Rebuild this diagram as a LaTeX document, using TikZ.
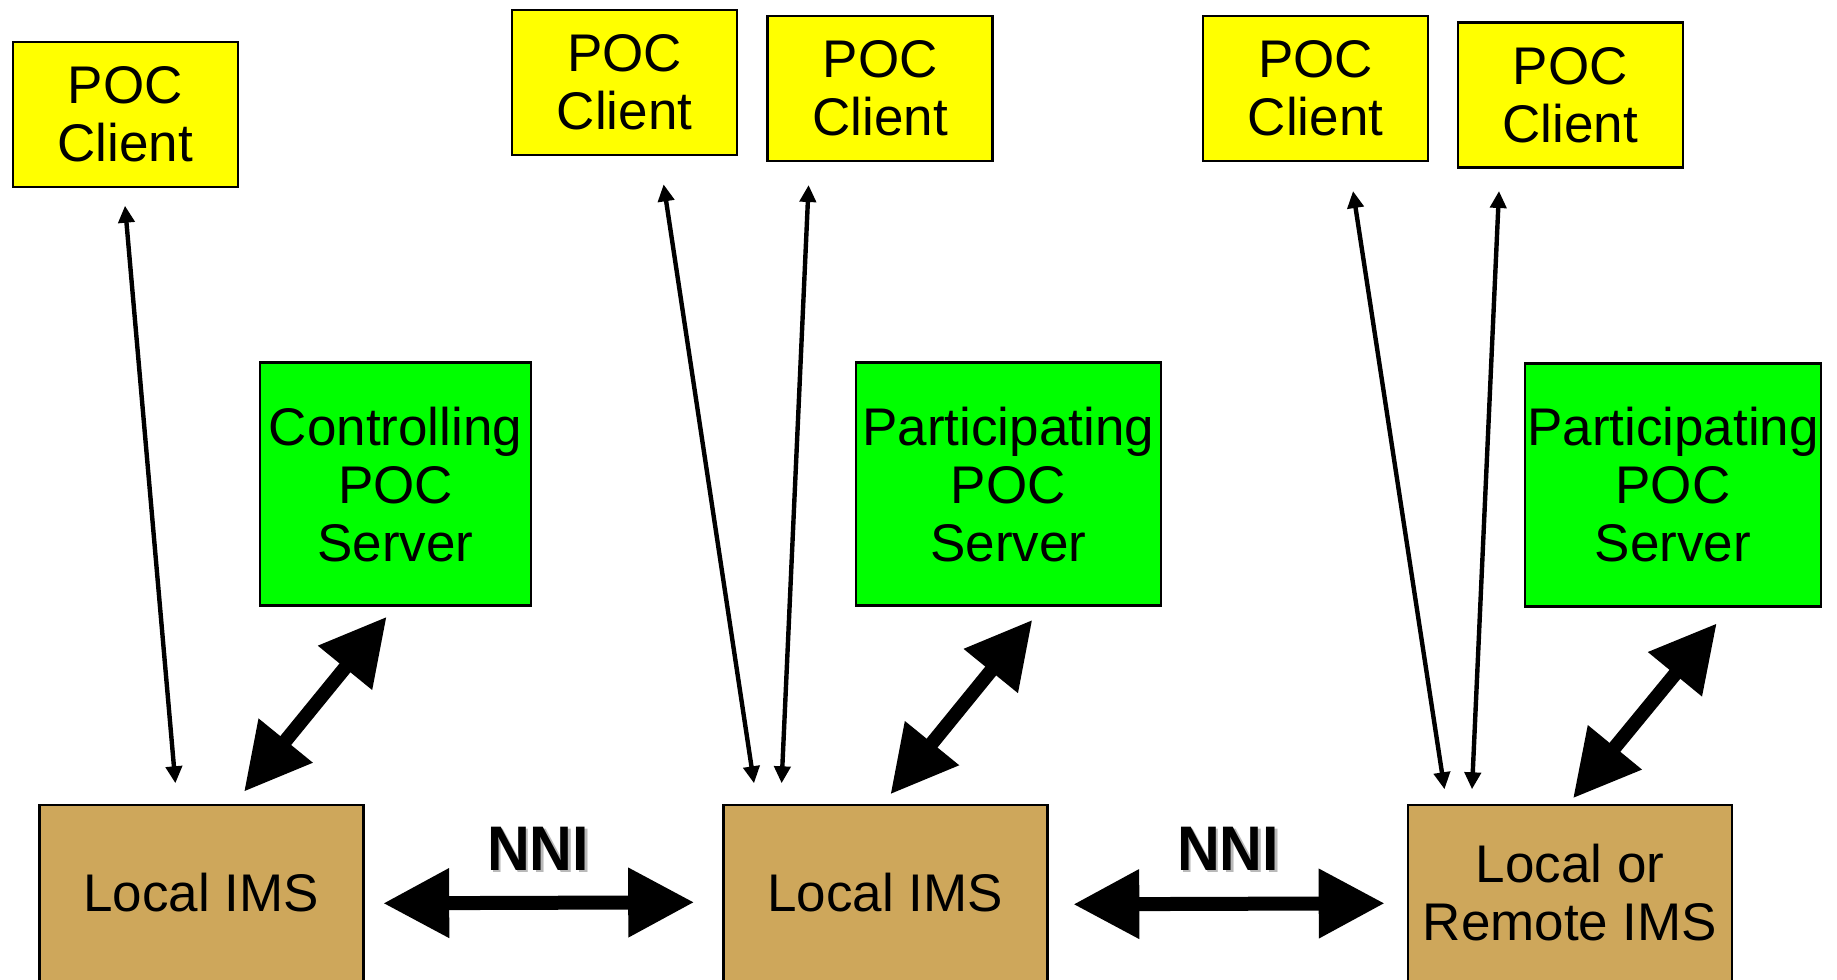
\documentclass[tikz,border=0pt]{standalone}
\usepackage{fontspec}
\setmainfont{Liberation Sans}
\usetikzlibrary{arrows.meta}
\definecolor{poyellow}{RGB}{255,255,0}
\definecolor{pogreen}{RGB}{0,255,0}
\definecolor{potan}{RGB}{206,167,91}
\definecolor{shadowgray}{RGB}{185,185,185}
\begin{document}
\begin{tikzpicture}[x=0.5pt,y=-0.5pt,
  box/.style={draw=black, line width=1.3pt, inner sep=0pt, outer sep=0pt, align=center,
    font=\fontsize{26.5}{29}\selectfont},
  client/.style={box, fill=poyellow, minimum width=112.5pt, minimum height=72.5pt},
  server/.style={box, fill=pogreen, minimum height=121.5pt},
  ims/.style={box, fill=potan, minimum width=162pt, minimum height=88pt},
  thinarrow/.style={line width=2.2pt, {Triangle[length=8.5pt,width=8pt]}-{Triangle[length=8.5pt,width=8pt]}},
  fatarrow/.style={line width=7pt, {Triangle[length=33pt,width=33pt]}-{Triangle[length=33pt,width=33pt]}},
  nnilabel/.style={anchor=base, inner sep=0pt, xscale=0.94, font=\fontsize{31.5}{34}\selectfont\bfseries}
]
\useasboundingbox (0,0) rectangle (1837,980);

% clients
\node[client] (c1) at (125.3,114.3) {POC\\Client};
\node[client] (c2) at (624.6,82.5) {POC\\Client};
\node[client] (c3) at (880.1,88.5) {POC\\Client};
\node[client] (c4) at (1315.5,88.5) {POC\\Client};
\node[client] (c5) at (1570.4,95) {POC\\Client};

% servers
\node[server, minimum width=135.5pt] (s1) at (395.5,484.2) {Controlling\\POC\\Server};
\node[server, minimum width=152.5pt] (s2) at (1008.3,484.2) {Participating\\POC\\Server};
\node[server, minimum width=148pt] (s3) at (1673,484.8) {Participating\\POC\\Server};

% IMS
\node[ims] (i1) at (201.3,893) {Local IMS};
\node[ims] (i2) at (885.3,893) {Local IMS};
\node[ims] (i3) at (1570,893) {Local or\\Remote IMS};

% NNI labels
\node[nnilabel, text=shadowgray] (n1s) at (540.5,872.5) {NNI};
\node[nnilabel] (n1) at (538,870) {NNI};
\node[nnilabel, text=shadowgray] (n2s) at (1230.5,872.5) {NNI};
\node[nnilabel] (n2) at (1228,870) {NNI};

% arrow end points
\coordinate (a1t) at (125,205.7);   \coordinate (a1b) at (175.4,783.3);
\coordinate (a2t) at (663.6,184.3); \coordinate (a2b) at (754,783.3);
\coordinate (a3t) at (808.6,185);   \coordinate (a3b) at (781.6,783.3);
\coordinate (a4t) at (1353,191);    \coordinate (a4b) at (1444.5,789.3);
\coordinate (a5t) at (1499,191);    \coordinate (a5b) at (1472,789.3);

\coordinate (b1t) at (386.7,616.7); \coordinate (b1b) at (244,791.7);
\coordinate (b2t) at (1032.4,619.8);\coordinate (b2b) at (890.4,794.3);
\coordinate (b3t) at (1716.8,623.3);\coordinate (b3b) at (1573,798.3);

\coordinate (nn1l) at (383.2,903.3); \coordinate (nn1r) at (694.2,902.3);
\coordinate (nn2l) at (1073.3,904.3);\coordinate (nn2r) at (1384.7,903.3);

% thin client arrows
\draw[thinarrow] (a1t) -- (a1b);
\draw[thinarrow] (a2t) -- (a2b);
\draw[thinarrow] (a3t) -- (a3b);
\draw[thinarrow] (a4t) -- (a4b);
\draw[thinarrow] (a5t) -- (a5b);

% server arrows
\draw[fatarrow] (b1t) -- (b1b);
\draw[fatarrow] (b2t) -- (b2b);
\draw[fatarrow] (b3t) -- (b3b);

% NNI arrows
\draw[fatarrow] (nn1l) -- (nn1r);
\draw[fatarrow] (nn2l) -- (nn2r);
\end{tikzpicture}
\end{document}
